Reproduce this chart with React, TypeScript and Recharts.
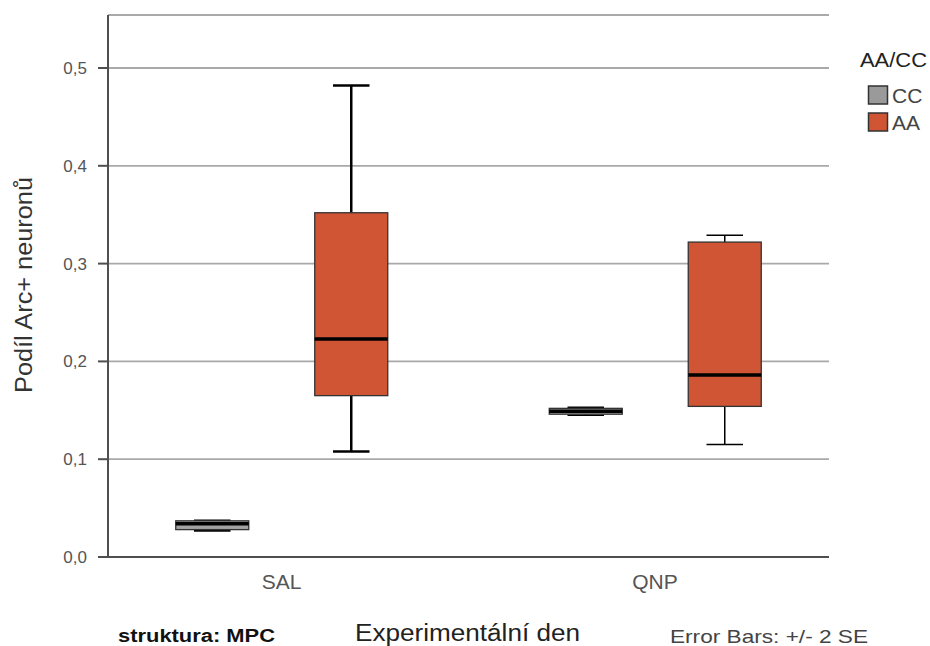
import React from 'react';
import { ComposedChart, Bar, XAxis, YAxis, CartesianGrid, Label } from 'recharts';

const categories = ['SAL', 'QNP'];
const seriesNames = ['CC', 'AA'];
const ccLow = [0.027, 0.145];
const ccQ1 = [0.028, 0.146];
const ccMedian = [0.034, 0.149];
const ccQ3 = [0.037, 0.152];
const ccHigh = [0.037, 0.153];
const aaLow = [0.108, 0.115];
const aaQ1 = [0.165, 0.154];
const aaMedian = [0.223, 0.186];
const aaQ3 = [0.352, 0.322];
const aaHigh = [0.482, 0.329];
const yTicks = [0, 0.1, 0.2, 0.3, 0.4, 0.5];

const data = categories.map((cat, i) => ({
  cat,
  ccWhisker: [ccLow[i], ccHigh[i]],
  ccBox: [ccQ1[i], ccQ3[i]],
  ccMed: [ccQ1[i], ccMedian[i]],
  aaWhisker: [aaLow[i], aaHigh[i]],
  aaBox: [aaQ1[i], aaQ3[i]],
  aaMed: [aaQ1[i], aaMedian[i]],
}));

const FONT = '"Liberation Sans", Arial, sans-serif';
const GRAY = '#a3a3a3';
const ORANGE = '#d05535';
const FRAME = '#4f4f4f';

const WhiskerShape = (props: any) => {
  const { x, y, width, height, payload } = props;
  if (x == null || y == null) return null;
  const cx = x + width / 2;
  const cap = width / 4;
  const sw = payload && payload.cat === 'SAL' ? 2.5 : 1.5;
  return (
    <g>
      <line x1={cx} y1={y} x2={cx} y2={y + height} stroke="#000" strokeWidth={sw} />
      <line x1={cx - cap} y1={y} x2={cx + cap} y2={y} stroke="#000" strokeWidth={sw} />
      <line x1={cx - cap} y1={y + height} x2={cx + cap} y2={y + height} stroke="#000" strokeWidth={sw} />
    </g>
  );
};

const makeBoxShape = (fill: string) => (props: any) => {
  const { x, y, width, height } = props;
  if (x == null || y == null) return null;
  return <rect x={x} y={y} width={width} height={Math.max(height, 0)} fill={fill} stroke="#333" strokeWidth={1.3} />;
};

const MedianShape = (props: any) => {
  const { x, y, width } = props;
  if (x == null || y == null) return null;
  return <line x1={x} y1={y} x2={x + width} y2={y} stroke="#000" strokeWidth={3.5} />;
};

const fmt = (v: number) => v.toFixed(1).replace('.', ',');

const YTitle = (props: any) => {
  const vb = props.viewBox || { x: 0, y: 15, width: 108, height: 542 };
  const cy = vb.y + vb.height / 2 - 1;
  return (
    <text x={24} y={cy} transform={`rotate(-90 24 ${cy})`} textAnchor="middle" dominantBaseline="central"
      fontFamily={FONT} fontSize={23} fill="#333" textLength={216} lengthAdjust="spacingAndGlyphs">Podíl Arc+ neuronů</text>
  );
};

const XTitle = (props: any) => {
  const vb = props.viewBox || { x: 108, y: 557, width: 721, height: 89 };
  const cx = vb.x + vb.width / 2;
  return (
    <text x={cx - 1} y={633} textAnchor="middle" dominantBaseline="central"
      fontFamily={FONT} fontSize={23} fill="#222" textLength={225} lengthAdjust="spacingAndGlyphs">Experimentální den</text>
  );
};

const xPad = { left: -13.25, right: -12.75 };

export default function App() {
  return (
    <div style={{ position: 'absolute', left: 0, top: 0, width: 930, height: 646, background: '#fff', fontFamily: FONT }}>
      <ComposedChart width={930} height={646} data={data} margin={{ top: 15, right: 101, bottom: 0, left: 0 }}
        barSize={73} barGap={66}>
        <CartesianGrid xAxisId="w" yAxisId="l" horizontal vertical={false} stroke="#a9a9a9" strokeWidth={1.8} />
        <XAxis xAxisId="w" dataKey="cat" type="category" padding={xPad} height={89}
          axisLine={{ stroke: FRAME, strokeWidth: 2 }} tickLine={false} tickSize={0} tickMargin={17}
          tick={{ fill: '#555', fontSize: 21, fontFamily: FONT }}>
          <Label content={<XTitle />} />
        </XAxis>
        <XAxis xAxisId="b" dataKey="cat" type="category" padding={xPad} height={0} hide />
        <XAxis xAxisId="m" dataKey="cat" type="category" padding={xPad} height={0} hide />
        <XAxis xAxisId="top" dataKey="cat" type="category" orientation="top" height={0} tick={false} tickLine={false}
          axisLine={{ stroke: FRAME, strokeWidth: 2 }} />
        <YAxis yAxisId="l" type="number" domain={[0, 0.5542]} ticks={yTicks} width={108}
          tickFormatter={fmt} axisLine={{ stroke: FRAME, strokeWidth: 2 }} tickLine={{ stroke: FRAME, strokeWidth: 2 }}
          tickSize={10} tickMargin={11} tick={{ fill: '#555', fontSize: 17, fontFamily: FONT }} interval={0}>
          <Label content={<YTitle />} />
        </YAxis>
        <YAxis yAxisId="r" type="number" orientation="right" domain={[0, 0.5542]} width={0} tick={false} tickLine={false}
          axisLine={{ stroke: FRAME, strokeWidth: 2 }} />
        <Bar xAxisId="w" yAxisId="l" dataKey="ccWhisker" name="CC" shape={WhiskerShape} isAnimationActive={false} />
        <Bar xAxisId="w" yAxisId="l" dataKey="aaWhisker" name="AA" shape={WhiskerShape} isAnimationActive={false} />
        <Bar xAxisId="b" yAxisId="l" dataKey="ccBox" name="CC" shape={makeBoxShape(GRAY)} isAnimationActive={false} />
        <Bar xAxisId="b" yAxisId="l" dataKey="aaBox" name="AA" shape={makeBoxShape(ORANGE)} isAnimationActive={false} />
        <Bar xAxisId="m" yAxisId="l" dataKey="ccMed" name="CC" shape={MedianShape} isAnimationActive={false} />
        <Bar xAxisId="m" yAxisId="l" dataKey="aaMed" name="AA" shape={MedianShape} isAnimationActive={false} />
      </ComposedChart>
      <svg width={930} height={646} style={{ position: 'absolute', left: 0, top: 0, pointerEvents: 'none' }}>
        <text x={860} y={60} dominantBaseline="central" fontFamily={FONT} fontSize={20} fill="#222"
          textLength={67} lengthAdjust="spacingAndGlyphs">AA/CC</text>
        {seriesNames.map((n, i) => (
          <g key={n}>
            <rect x={868.5} y={86 + i * 27} width={19} height={18} fill={i === 0 ? '#9a9a9a' : ORANGE}
              stroke="#333" strokeWidth={1.5} />
            <text x={892} y={95 + i * 27} dominantBaseline="central" fontFamily={FONT} fontSize={21} fill="#444">{n}</text>
          </g>
        ))}
        <text x={118} y={636} dominantBaseline="central" fontFamily={FONT} fontSize={18} fontWeight="bold" fill="#111"
          textLength={157} lengthAdjust="spacingAndGlyphs">struktura: MPC</text>
        <text x={670} y={636} dominantBaseline="central" fontFamily={FONT} fontSize={19} fill="#444"
          textLength={198} lengthAdjust="spacingAndGlyphs">Error Bars: +/- 2 SE</text>
      </svg>
    </div>
  );
}
